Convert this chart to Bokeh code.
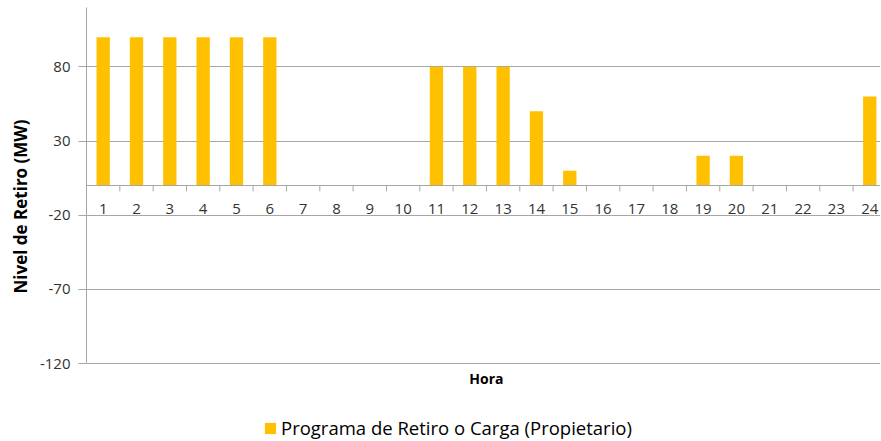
from bokeh.plotting import figure
from bokeh.models import Range1d, FixedTicker, Legend, LegendItem, ColumnDataSource, Span, Title
from bokeh.core.properties import value
from bokeh.embed import file_html
from bokeh.resources import INLINE

hours = list(range(1, 25))
hour_labels = [str(h) for h in hours]
retiro = [100, 100, 100, 100, 100, 100, 0, 0, 0, 0, 80, 80, 80, 50, 10, 0, 0, 0, 20, 20, 0, 0, 0, 60]
y_ticks = [-120, -70, -20, 30, 80]
y_tick_labels = ["-120", "-70", "-20", "30", "80"]
Y_MIN, Y_MAX = -120, 120
series_name = "Programa de Retiro o Carga (Propietario)"
x_title = "Hora"
y_title = "Nivel de Retiro (MW)"

FONT = "Open Sans"
GRID = "#A6A6A6"
BAR = "#FFC000"
TXT = "#333333"

W, H = 880, 440
TOP, LEFT = 7, 86
PLOT_PX = 356                      # height of the -120..120 band in pixels
FRAME_PX = H - TOP                 # frame extends down to hold title + legend
CAT_PX = 33.33                     # width of one hour slot in pixels
y_start = Y_MAX - (Y_MAX - Y_MIN) * FRAME_PX / PLOT_PX
x_start = hours[0] - 0.5
x_end = x_start + (W - LEFT) / CAT_PX

src = ColumnDataSource(dict(x=hours, top=retiro))
bounds = [h - 0.5 for h in hours] + [hours[-1] + 0.5]
tick_src = ColumnDataSource(dict(x=bounds, y0=[0] * len(bounds), y1=[-4] * len(bounds)))
lab_src = ColumnDataSource(dict(x=hours, y=[0] * len(hours), text=hour_labels))
xt_src = ColumnDataSource(dict(x=[(hours[0] + hours[-1]) / 2], y=[Y_MIN], text=[x_title]))

p = figure(width=W, height=H, output_backend="svg", toolbar_location=None,
           x_range=Range1d(x_start, x_end), y_range=Range1d(y_start, Y_MAX),
           x_axis_location=None,
           min_border_left=LEFT, min_border_right=0, min_border_top=TOP, min_border_bottom=0)
p.outline_line_color = None

r = p.vbar(x="x", top="top", bottom=0, width=0.4, source=src, fill_color=BAR, line_color=None)

# zero line acting as category axis
p.add_layout(Span(location=0, dimension="width", line_color=GRID, line_width=1))
p.segment(x0="x", y0="y0", x1="x", y1="y1", source=tick_src, line_color=GRID, line_width=1)
p.text(x="x", y="y", text="text", source=lab_src, y_offset=23,
       text_align="center", text_baseline="middle", text_font=value(FONT),
       text_font_size="15px", text_color=TXT)

# x title
p.text(x="x", y="y", text="text", source=xt_src, y_offset=15,
       text_align="center", text_baseline="middle", text_font=value(FONT),
       text_font_size="14px", text_font_style="bold", text_color="black")

p.xgrid.visible = False

ya = p.yaxis[0]
ya.bounds = (Y_MIN, Y_MAX)
ya.ticker = FixedTicker(ticks=y_ticks)
ya.major_label_overrides = {t: l for t, l in zip(y_ticks, y_tick_labels)}
ya.axis_line_color = GRID
ya.major_tick_line_color = GRID
ya.major_tick_out = 8
ya.major_tick_in = 0
ya.minor_tick_line_color = None
ya.major_label_standoff = 8
ya.major_label_text_font = FONT
ya.major_label_text_font_size = "15px"
ya.major_label_text_color = TXT
p.ygrid.ticker = FixedTicker(ticks=y_ticks)
p.ygrid.grid_line_color = GRID

# y title, anchored so it is centred on the -120..120 band
p.add_layout(Title(text=y_title, align="left", offset=147, standoff=10,
                   vertical_align="bottom", text_font=FONT, text_font_size="17px",
                   text_font_style="bold", text_color="black"), "left")

legend = Legend(items=[LegendItem(label=series_name, renderers=[r])],
                orientation="horizontal", location=(177, 0),
                border_line_color=None, background_fill_alpha=0,
                padding=0, margin=0, glyph_width=14, glyph_height=14,
                label_text_font=FONT, label_text_font_size="18.5px",
                label_text_color="black", label_standoff=4, label_height=24)
p.add_layout(legend, "center")

open("out.html", "w").write(file_html(p, INLINE))
